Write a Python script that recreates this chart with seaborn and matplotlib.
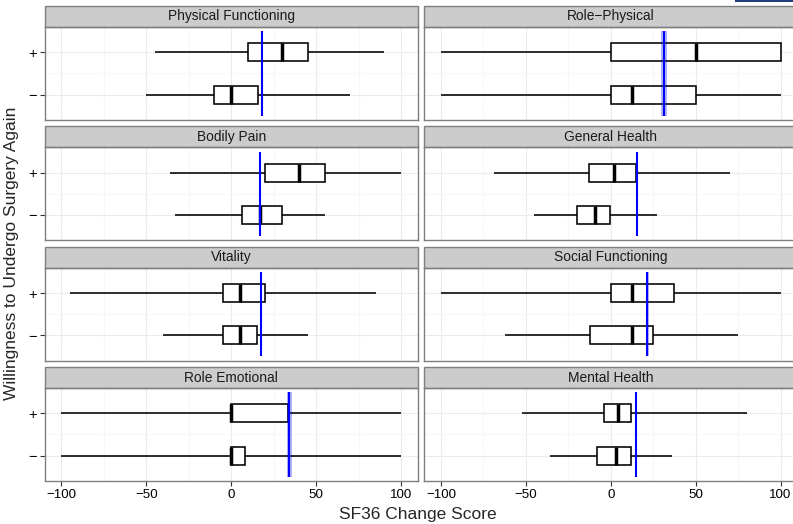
import numpy as np
import pandas as pd
import matplotlib.pyplot as plt
from matplotlib.patches import Rectangle
import seaborn as sns

# facets (row-wise, 2 columns)
scales = ['Physical Functioning', 'Role\u2212Physical', 'Bodily Pain', 'General Health',
          'Vitality', 'Social Functioning', 'Role Emotional', 'Mental Health']
groups = ['+', '\u2212']

# five-number summaries: min, q1, median, q3, max
plus_stats = [
    [-45, 10, 30, 45, 90],
    [-100, 0, 50, 100, 100],
    [-36, 20, 40, 55, 100],
    [-69, -13, 2, 15, 70],
    [-95, -5, 5, 20, 85],
    [-100, 0, 12.5, 37.5, 100],
    [-100, 0, 0, 33.3, 100],
    [-52, -4, 4, 12, 80],
]
minus_stats = [
    [-50, -10, 0, 16, 70],
    [-100, 0, 12.5, 50, 100],
    [-33, 6.5, 17, 30, 55],
    [-45, -20, -9, -0.5, 27],
    [-40, -5, 5, 15, 45],
    [-62.5, -12.5, 12.5, 25, 75],
    [-100, 0, 0, 8.3, 100],
    [-36, -8, 3, 12, 36],
]
# overall mean change and its band
means = [18, 31.3, 16.7, 15.5, 17.3, 21.6, 34.2, 15]
half_band = [0.5, 1.6, 0.3, 0.3, 0.3, 0.8, 1.5, 0.3]

rows = []
for s, p, m in zip(scales, plus_stats, minus_stats):
    for v in p:
        rows.append((s, '+', v))
    for v in m:
        rows.append((s, '\u2212', v))
df = pd.DataFrame(rows, columns=['scale', 'group', 'score'])

sns.set_style('white')
plt.rcParams['font.family'] = ['Liberation Sans', 'DejaVu Sans']

W, H = 793, 524
fig = plt.figure(figsize=(W / 100, H / 100), dpi=100)

lefts = [44.5, 424]
width = 373.5
tops = [27, 147.3, 267.7, 388]
ph = 93
strip_h = 21

for i, s in enumerate(scales):
    r, c = divmod(i, 2)
    x0 = lefts[c]
    y0 = tops[r] + ph
    ax = fig.add_axes([x0 / W, 1 - y0 / H, width / W, ph / H])
    sub = df[df['scale'] == s]
    sns.boxplot(data=sub, x='score', y='group', order=groups, orient='h',
                whis=(0, 100), width=0.42, color='white', linecolor='black',
                linewidth=1.15, showcaps=False, fliersize=0,
                medianprops={'linewidth': 2.5, 'color': 'black'}, ax=ax)
    # mean line with band
    ax.fill_betweenx([-0.5, 1.5], means[i] - half_band[i], means[i] + half_band[i],
                     color='#0000ff', alpha=0.3, lw=0, zorder=5)
    ax.vlines(means[i], -0.5, 1.5, color='#0000ff', lw=1.5, zorder=6)

    ax.set_xlim(-110, 110)
    ax.set_ylim(1.6, -0.6)
    ax.set_xticks([-100, -50, 0, 50, 100])
    ax.set_xticks([-75, -25, 25, 75], minor=True)
    ax.set_yticks([0, 1])
    ax.set_yticks([0.5], minor=True)
    ax.grid(which='major', color='#ebebeb', lw=0.8, zorder=0)
    ax.grid(which='minor', color='#f7f7f7', lw=0.8, zorder=0)
    ax.set_axisbelow(True)
    ax.set_xlabel('')
    ax.set_ylabel('')
    for sp in ax.spines.values():
        sp.set_color('#7f7f7f')
        sp.set_linewidth(1.0)
        sp.set_visible(True)
    ax.tick_params(which='minor', length=0)
    ax.tick_params(axis='both', which='major', length=3.5, width=0.8, color='#333333',
                   labelsize=9.6, labelcolor='black', pad=2)
    if c == 0:
        ax.set_yticklabels(groups, fontsize=10.5)
        ax.tick_params(axis='y', left=True)
    else:
        ax.tick_params(axis='y', left=False, labelleft=False)
    if r == 3:
        ax.tick_params(axis='x', bottom=True)
        ax.set_xticklabels(['\u2212100', '\u221250', '0', '50', '100'])
    else:
        ax.tick_params(axis='x', bottom=False, labelbottom=False)

    # strip
    sh = strip_h / ph
    ax.add_patch(Rectangle((0, 1.0), 1, sh, transform=ax.transAxes, facecolor='#cccccc',
                           edgecolor='#7f7f7f', lw=1.0, clip_on=False))
    ax.text(0.5, 1 + sh / 2, s, transform=ax.transAxes, ha='center', va='center',
            fontsize=9.9, color='#1a1a1a')

fig.text(418 / W, 1 - 514 / H, 'SF36 Change Score', ha='center', va='center', fontsize=12.5)
fig.text(12 / W, 1 - 253 / H, 'Willingness to Undergo Surgery Again', ha='center', va='center',
         rotation=90, fontsize=12.5)

# stray bar in the top-right corner of the source image
fig.patches.append(Rectangle((735 / W, 1 - 2 / H), 58 / W, 2 / H, transform=fig.transFigure,
                             facecolor='#1f3f7a', edgecolor='none'))

fig.savefig('out.png', dpi=100)
